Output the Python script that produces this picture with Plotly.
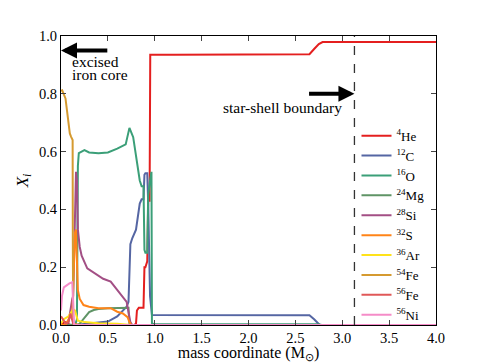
import plotly.graph_objects as go

# mass coordinate (Msun) and mass fraction for each species
he4_x = [0, 0.05, 0.1, 0.4, 0.78, 0.8, 0.81, 0.83, 0.88, 0.89, 0.9, 0.92, 0.93, 0.945, 0.952, 1.2, 2.0, 2.65, 2.7, 2.75, 2.79, 3.5, 4.0]
he4_y = [0.003, 0.01, 0, 0, 0, 0.005, 0.05, 0.06, 0.06, 0.2, 0.2, 0.22, 0.43, 0.43, 0.935, 0.935, 0.935, 0.937, 0.955, 0.972, 0.979, 0.979, 0.979]

c12_x = [0, 0.1, 0.2, 0.3, 0.4, 0.5, 0.6, 0.7, 0.72, 0.74, 0.76, 0.8, 0.84, 0.86, 0.88, 0.89, 0.9, 0.92, 0.93, 0.95, 0.97, 1.0, 2.0, 2.65, 2.7, 2.76, 4.0]
c12_y = [0, 0, 0.002, 0.005, 0.008, 0.012, 0.03, 0.063, 0.08, 0.28, 0.3, 0.33, 0.42, 0.435, 0.435, 0.52, 0.525, 0.525, 0.42, 0.1, 0.035, 0.035, 0.035, 0.034, 0.02, 0, 0]

o16_x = [0, 0.15, 0.17, 0.18, 0.19, 0.22, 0.25, 0.3, 0.4, 0.5, 0.6, 0.69, 0.73, 0.77, 0.8, 0.82, 0.84, 0.86, 0.88, 0.89, 0.9, 0.92, 0.93, 0.95, 0.965, 0.97, 1.0, 2.0, 2.75, 2.78, 4.0]
o16_y = [0, 0, 0.02, 0.55, 0.595, 0.6, 0.605, 0.597, 0.594, 0.597, 0.61, 0.625, 0.682, 0.65, 0.58, 0.53, 0.5, 0.48, 0.48, 0.26, 0.25, 0.25, 0.45, 0.5, 0.53, 0.005, 0.003, 0.003, 0.003, 0, 0]

mg24_x = [0, 0.18, 0.2, 0.25, 0.3, 0.35, 0.4, 0.5, 0.6, 0.72, 0.73, 0.75, 4.0]
mg24_y = [0, 0, 0.005, 0.025, 0.045, 0.052, 0.055, 0.058, 0.06, 0.06, 0.0, 0, 0]

si28_x = [0, 0.05, 0.08, 0.1, 0.12, 0.13, 0.15, 0.16, 0.17, 0.18, 0.2, 0.22, 0.28, 0.35, 0.45, 0.53, 0.6, 0.65, 0.7, 0.72, 0.74, 0.76, 4.0]
si28_y = [0, 0, 0.01, 0.06, 0.09, 0.1, 0.45, 0.53, 0.5, 0.33, 0.27, 0.24, 0.196, 0.18, 0.16, 0.15, 0.12, 0.1, 0.08, 0.045, 0.01, 0, 0]

s32_x = [0, 0.05, 0.08, 0.1, 0.12, 0.14, 0.15, 0.16, 0.17, 0.18, 0.2, 0.24, 0.3, 0.4, 0.53, 0.6, 0.66, 0.71, 0.73, 0.75, 4.0]
s32_y = [0, 0, 0.02, 0.03, 0.03, 0.2, 0.32, 0.33, 0.25, 0.12, 0.09, 0.069, 0.063, 0.058, 0.058, 0.046, 0.04, 0.027, 0.01, 0, 0]

ar36_x = [0, 0.03, 0.08, 0.13, 0.15, 0.18, 0.25, 0.4, 0.6, 0.72, 0.75, 4.0]
ar36_y = [0.005, 0.02, 0.03, 0.055, 0.05, 0.015, 0.01, 0.006, 0.004, 0.002, 0, 0]

fe54_x = [0, 0.013, 0.048, 0.094, 0.108, 0.124, 0.126, 0.13, 0.2, 4.0]
fe54_y = [0.81, 0.812, 0.784, 0.663, 0.651, 0.64, 0.3, 0.005, 0, 0]

fe56_x = [0, 0.02, 0.05, 0.08, 0.1, 0.13, 0.16, 4.0]
fe56_y = [0.03, 0.02, 0.005, 0.01, 0.04, 0.005, 0, 0]

ni56_x = [0, 0.01, 0.03, 0.05, 0.09, 0.12, 0.13, 0.14, 4.0]
ni56_y = [0.05, 0.1, 0.13, 0.135, 0.144, 0.148, 0.05, 0, 0]

species = [
    ('<sup>4</sup>He', he4_x, he4_y, '#e41f1f'),
    ('<sup>12</sup>C', c12_x, c12_y, '#5566a3'),
    ('<sup>16</sup>O', o16_x, o16_y, '#3b9f78'),
    ('<sup>24</sup>Mg', mg24_x, mg24_y, '#5f9466'),
    ('<sup>28</sup>Si', si28_x, si28_y, '#a34f85'),
    ('<sup>32</sup>S', s32_x, s32_y, '#ff8418'),
    ('<sup>36</sup>Ar', ar36_x, ar36_y, '#ffe21a'),
    ('<sup>54</sup>Fe', fe54_x, fe54_y, '#d59a30'),
    ('<sup>56</sup>Fe', fe56_x, fe56_y, '#e05858'),
    ('<sup>56</sup>Ni', ni56_x, ni56_y, '#f58cc8'),
]

boundary = 3.13
serif = 'Liberation Serif'

fig = go.Figure()
for name, xs, ys, col in species:
    fig.add_trace(go.Scatter(x=xs, y=ys, mode='lines', name=name,
                             line=dict(color=col, width=2)))

# star-shell boundary
fig.add_shape(type='line', x0=boundary, x1=boundary, y0=0, y1=1, xref='x', yref='y',
              line=dict(color='#333333', width=1.3, dash='dash'))

# arrows and labels
fig.add_annotation(x=0.0, y=0.95, ax=0.51, ay=0.95, xref='x', yref='y', axref='x', ayref='y',
                   showarrow=True, arrowhead=2, arrowsize=0.8, arrowwidth=4, arrowcolor='black', text='')
fig.add_annotation(x=0.1, y=0.912, xref='x', yref='y', xanchor='left', yanchor='middle',
                   text='excised', showarrow=False, font=dict(size=15.5, family=serif))
fig.add_annotation(x=0.1, y=0.867, xref='x', yref='y', xanchor='left', yanchor='middle',
                   text='iron core', showarrow=False, font=dict(size=15.5, family=serif))
fig.add_annotation(x=boundary, y=0.8, ax=2.63, ay=0.8, xref='x', yref='y', axref='x', ayref='y',
                   showarrow=True, arrowhead=2, arrowsize=0.8, arrowwidth=4, arrowcolor='black', text='')
fig.add_annotation(x=3.02, y=0.754, xref='x', yref='y', xanchor='right', yanchor='middle',
                   text='star-shell boundary', showarrow=False, font=dict(size=15.5, family=serif))

fig.update_layout(
    width=485, height=363,
    margin=dict(l=60.5, r=48.7, t=35.7, b=38, autoexpand=False),
    paper_bgcolor='white', plot_bgcolor='white',
    font=dict(family=serif, size=14, color='black'),
    showlegend=True,
    legend=dict(x=0.788, y=0.707, xanchor='left', yanchor='top', bgcolor='rgba(0,0,0,0)',
                font=dict(size=13, family=serif), tracegroupgap=0, itemwidth=30),
)
fig.update_xaxes(range=[0, 4], tickvals=[0, 0.5, 1, 1.5, 2, 2.5, 3, 3.5, 4],
                 ticktext=['0.0', '0.5', '1.0', '1.5', '2.0', '2.5', '3.0', '3.5', '4.0'],
                 ticks='inside', ticklen=5, mirror='ticks', showline=True, linecolor='black',
                 linewidth=1, showgrid=False, zeroline=False, tickfont=dict(size=14.5, family=serif),
                 automargin=False,
                 title=dict(text='mass coordinate (M<sub>⊙</sub>)', font=dict(size=16, family=serif), standoff=2))
fig.update_yaxes(range=[0, 1], tickvals=[0, 0.2, 0.4, 0.6, 0.8, 1.0],
                 ticktext=['0.0', '0.2', '0.4', '0.6', '0.8', '1.0'],
                 ticks='inside', ticklen=5, mirror='ticks', showline=True, linecolor='black',
                 linewidth=1, showgrid=False, zeroline=False, tickfont=dict(size=14.5, family=serif),
                 automargin=False,
                 title=dict(text='<i>X<sub>i</sub></i>', font=dict(size=17, family=serif), standoff=6))

fig.write_html("out.html", config={'displayModeBar': False},
               post_script="document.body.style.margin='0px';")
